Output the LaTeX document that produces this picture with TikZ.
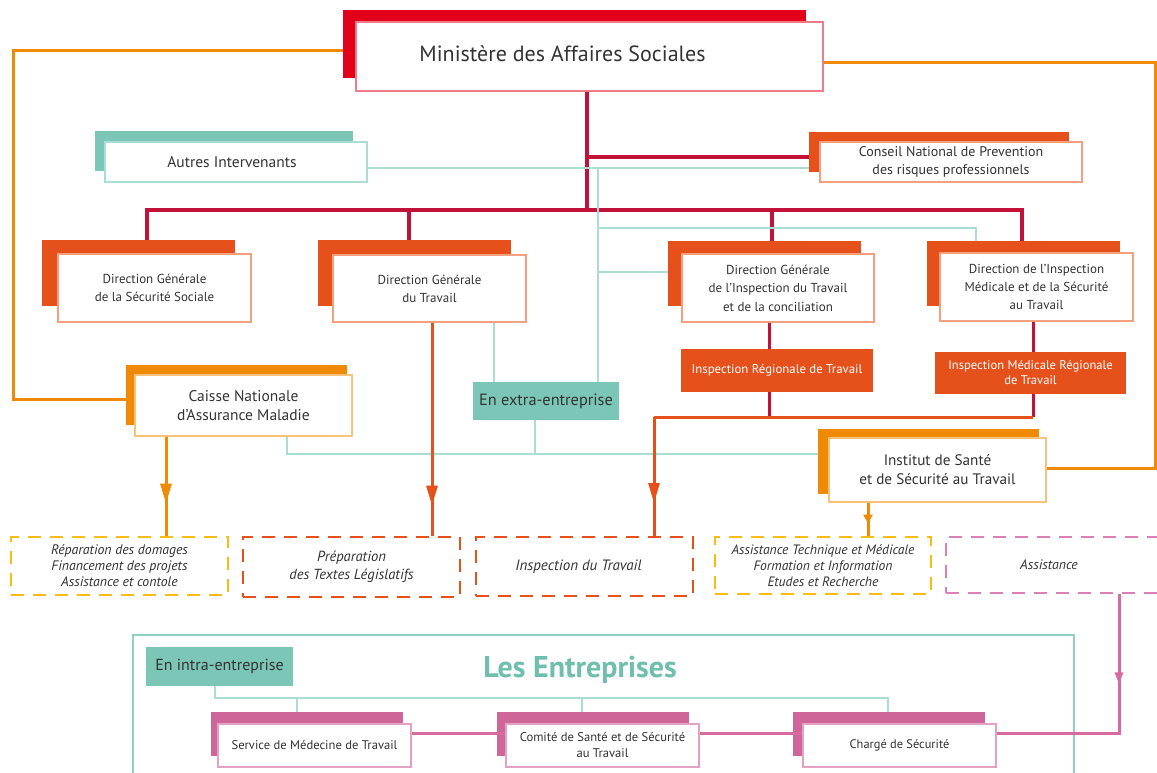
\documentclass[tikz,border=0pt]{standalone}
\usepackage{fontspec}
\setmainfont{PT Sans}
\usetikzlibrary{arrows.meta,decorations.markings}
\definecolor{redM}{HTML}{E3001B}
\definecolor{redMl}{HTML}{F07C8A}
\definecolor{crim}{HTML}{C2123A}
\definecolor{orred}{HTML}{E5501B}
\definecolor{orredl}{HTML}{F4A07E}
\definecolor{orng}{HTML}{EE8A05}
\definecolor{orngl}{HTML}{F8C27A}
\definecolor{tealf}{HTML}{7CC6B8}
\definecolor{teall}{HTML}{A9DDD6}
\definecolor{tealt}{HTML}{6FBFAE}
\definecolor{yell}{HTML}{F9BB14}
\definecolor{pinkb}{HTML}{CF6699}
\definecolor{pinkl}{HTML}{D76A9F}
\definecolor{pinkfl}{HTML}{E3A2C4}
\definecolor{pinkd}{HTML}{DB80B5}
\definecolor{txt}{HTML}{333333}
\begin{document}
\begin{tikzpicture}[x=1pt,y=-1pt,
  front/.style={draw, fill=white, line width=1.2pt, inner sep=0pt, align=center, text=txt},
  backbox/.style={inner sep=0pt},
  dbox/.style={draw, line width=2.5pt, dash pattern=on 13pt off 9pt, inner sep=0pt, align=center, text=txt},
  fs/.style 2 args={font={\fontsize{#1}{#2}\selectfont}},
  fi/.style 2 args={font={\fontsize{#1}{#2}\selectfont\itshape}},
  crimline/.style={draw=crim, line width=3.5pt},
  orline/.style={draw=orng, line width=3pt},
  orrline/.style={draw=orred, line width=3pt},
  tline/.style={draw=teall, line width=2pt},
  pline/.style={draw=pinkl, line width=3pt},
  marr/.style={postaction={decorate}, decoration={markings, mark=at position #1 with {\arrow{Triangle[length=20pt,width=11pt]}}}},
  smarr/.style={postaction={decorate}, decoration={markings, mark=at position #1 with {\arrow{Triangle[length=9pt,width=9pt]}}}}
]
\useasboundingbox (0,0) rectangle (1157,772);
\clip (0,0) rectangle (1157,772);
\fill[white] (0,0) rectangle (1157,772);

% Ministere
\node[backbox, fill=redM, minimum width=463pt, minimum height=68pt] (minb) at (574.5,44) {};
\node[front, draw=redMl, minimum width=467pt, minimum height=69pt, fs={22}{26}] (minf) at (589.5,56.5) {\hspace*{-54pt}\raisebox{6pt}{Ministère des Affaires Sociales}};

% Autres / Conseil
\node[backbox, fill=tealf, minimum width=258pt, minimum height=40pt] (autb) at (224,151) {};
\node[front, draw=teall, minimum width=262pt, minimum height=40pt, fs={15.5}{18}] (autf) at (236,162) {\hspace*{-8pt}Autres Intervenants};
\node[backbox, fill=orred, minimum width=260pt, minimum height=40pt] (conb) at (939,152) {};
\node[front, draw=orredl, minimum width=262pt, minimum height=40pt, fs={14}{18}] (conf) at (951,162) {Conseil National de Prevention\\des risques professionnels};

% Directions
\node[backbox, fill=orred, minimum width=193pt, minimum height=66pt] (dgssb) at (138.5,273) {};
\node[front, draw=orredl, minimum width=193pt, minimum height=68pt, fs={13}{18}] (dgssf) at (154.5,288) {Direction Générale\\de la Sécurité Sociale};
\node[backbox, fill=orred, minimum width=193pt, minimum height=66pt] (dgtb) at (414.5,273) {};
\node[front, draw=orredl, minimum width=193pt, minimum height=67pt, fs={13}{18}] (dgtf) at (429.5,288.5) {Direction Générale\\du Travail};
\node[backbox, fill=orred, minimum width=193pt, minimum height=65pt] (dgitb) at (764.5,273.5) {};
\node[front, draw=orredl, minimum width=192pt, minimum height=68pt, fs={13}{18.5}] (dgitf) at (778,288) {Direction Générale\\de l'Inspection du Travail\\et de la conciliation};
\node[backbox, fill=orred, minimum width=193pt, minimum height=65pt] (dimb) at (1023.5,273.5) {};
\node[front, draw=orredl, minimum width=193pt, minimum height=68pt, fs={13}{18}] (dimf) at (1036.5,287) {Direction de l'Inspection\\Médicale et de la Sécurité\\au Travail};

% Regional
\node[inner sep=0pt, fill=orred, text=white, align=center, minimum width=192pt, minimum height=43pt, fs={12.8}{15}] (irt) at (777,370.5) {Inspection Régionale de Travail};
\node[inner sep=0pt, fill=orred, text=white, align=center, minimum width=191pt, minimum height=42pt, fs={12.6}{15}] (imr) at (1030.5,373) {Inspection Médicale Régionale\\de Travail};

% Caisse, extra, Institut
\node[backbox, fill=orng, minimum width=221pt, minimum height=60pt] (caib) at (236.5,395) {};
\node[front, draw=orngl, minimum width=217pt, minimum height=61pt, fs={15.5}{19}] (caif) at (243.5,405.5) {Caisse Nationale\\d'Assurance Maladie};
\node[inner sep=0pt, fill=tealf, text=txt, minimum width=146pt, minimum height=38pt, fs={16.3}{18}] (extra) at (546,401) {En extra-entreprise};
\node[backbox, fill=orng, minimum width=221pt, minimum height=65pt] (instb) at (928.5,461.5) {};
\node[front, draw=orngl, minimum width=217pt, minimum height=64pt, fs={15.2}{19}] (instf) at (937.5,470) {Institut de Santé\\et de Sécurité au Travail};

% Dashed boxes
\node[dbox, draw=yell, minimum width=217pt, minimum height=58pt, fi={13.8}{16}] (d1) at (119.5,566) {Réparation des domages\\Financement des projets\\Assistance et contole};
\node[dbox, draw=orred, minimum width=217pt, minimum height=60pt, fi={14.6}{18}] (d2) at (351.5,567) {Préparation\\des Textes Législatifs};
\node[dbox, draw=orred, minimum width=217pt, minimum height=59pt, fi={15}{17}] (d3) at (584.5,566.5) {\hspace*{-12pt}Inspection du Travail};
\node[dbox, draw=yell, minimum width=216pt, minimum height=57pt, fi={13.6}{16}] (d4) at (823,565.5) {Assistance Technique et Médicale\\Formation et Information\\Etudes et Recherche};
\node[dbox, draw=pinkd, minimum width=222pt, minimum height=56pt, fi={13.8}{16}] (d5) at (1057,565) {\hspace*{-16pt}Assistance};

% Entreprises
\node[draw=tealf!85, line width=2.5pt, inner sep=0pt, minimum width=941pt, minimum height=160pt] (ent) at (603.5,715) {};
\node[text=tealt, font={\fontsize{30}{34}\selectfont\bfseries}] (entt) at (580,670) {Les Entreprises};
\node[inner sep=0pt, fill=tealf, text=txt, minimum width=147pt, minimum height=39pt, fs={16}{18}] (intra) at (219.5,666.5) {En intra-entreprise};

\node[backbox, fill=pinkb, minimum width=192pt, minimum height=44pt] (srvb) at (307,734) {};
\node[front, draw=pinkfl, minimum width=193pt, minimum height=43pt, fs={12.6}{15}] (srvf) at (314.5,745.5) {Service de Médecine de Travail};
\node[backbox, fill=pinkb, minimum width=192pt, minimum height=44pt] (comb) at (593,734) {};
\node[front, draw=pinkfl, minimum width=193pt, minimum height=43pt, fs={12.6}{16}] (comf) at (602.5,745.5) {Comité de Santé et de Sécurité\\au Travail};
\node[backbox, fill=pinkb, minimum width=192pt, minimum height=44pt] (chab) at (889,734) {};
\node[front, draw=pinkfl, minimum width=193pt, minimum height=43pt, fs={12.4}{15}] (chaf) at (899.5,745.5) {\raisebox{3pt}{Chargé de Sécurité}};

% helper coordinates
\coordinate (trunk) at (587,0);
\coordinate (yb) at (0,157);
\coordinate (bus) at (0,210);
\coordinate (ty1) at (0,168);
\coordinate (tx) at (598,0);
\coordinate (ty2) at (0,228);
\coordinate (ty3) at (0,272);
\coordinate (ty4) at (0,454);
\coordinate (oy1) at (0,50);
\coordinate (ox1) at (13,0);
\coordinate (oy2) at (0,399);
\coordinate (oy3) at (0,62);
\coordinate (ox2) at (1155,0);
\coordinate (oy4) at (0,468);
\coordinate (ry) at (0,417);
\coordinate (rx) at (654,0);
\coordinate (py) at (0,733);
\coordinate (px) at (1119,0);

% crimson
\draw[crimline] (minf.south -| trunk) -- (trunk |- bus);
\draw[crimline] (trunk |- yb) -- (conb.west |- yb);
\draw[crimline, line cap=rect] (147,210) -- (1022,210);
\draw[crimline] (147,210) -- (dgssb.north -| 147,0);
\draw[crimline] (409,210) -- (dgtb.north -| 409,0);
\draw[crimline] (772,210) -- (dgitb.north -| 772,0);
\draw[crimline] (1022,210) -- (dimb.north -| 1022,0);
\draw[crimline, line width=3pt] (dgitf.south -| 769,0) -- (irt.north -| 769,0);
\draw[crimline, line width=3pt] (dimf.south -| 1033,0) -- (imr.north -| 1033,0);
\draw[crimline, line width=3pt] (irt.south -| 769,0) -- (769,417);
\draw[crimline, line width=3pt] (imr.south -| 1033,0) -- (1033,417);

% teal
\draw[tline] (autf.east |- ty1) -- (conb.west |- ty1);
\draw[tline] (tx |- ty1) -- (tx |- extra.north);
\draw[tline] (tx |- ty2) -- (976,228) -- (dimb.north -| 976,0);
\draw[tline] (tx |- ty3) -- (dgitb.west |- ty3);
\draw[tline] (dgtf.south -| 494,0) -- (extra.north -| 494,0);
\draw[tline] (extra.south -| 535,0) -- (535,454);
\draw[tline] (caif.south -| 287,0) -- (287,454) -- (instb.west |- ty4);
\draw[tline] (intra.south -| 215,0) -- (215,698) -- (888,698) -- (chab.north -| 888,0);
\draw[tline] (297,698) -- (srvb.north -| 297,0);
\draw[tline] (582,698) -- (comb.north -| 582,0);

% orange
\draw[orline] (minb.west |- oy1) -- (ox1 |- oy1) -- (ox1 |- oy2) -- (caib.west |- oy2);
\draw[orline] (minf.east |- oy3) -- (ox2 |- oy3) -- (ox2 |- oy4) -- (instf.east |- oy4);
\draw[orline, marr=67pt] (caif.south -| 166,0) -- (d1.north -| 166,0);
\draw[orline, smarr=21pt] (instf.south -| 868,0) -- (d4.north -| 868,0);

% orange-red
\draw[orrline] (1033,417) -- (rx |- ry);
\draw[orrline, marr=183pt] (dgtf.south -| 432,0) -- (d2.north -| 432,0);
\draw[orrline, marr=86pt] (rx |- ry) -- (d3.north -| rx);

% pink
\draw[pline] (srvf.east |- py) -- (comf.west |- py);
\draw[pline] (comf.east |- py) -- (chaf.west |- py);
\draw[pline, postaction={decorate}, decoration={markings, mark=at position 90pt with {\arrow{Triangle[length=12pt,width=8pt]}}}] (d5.south -| px) -- (px |- py) -- (chaf.east |- py);
\end{tikzpicture}
\end{document}
